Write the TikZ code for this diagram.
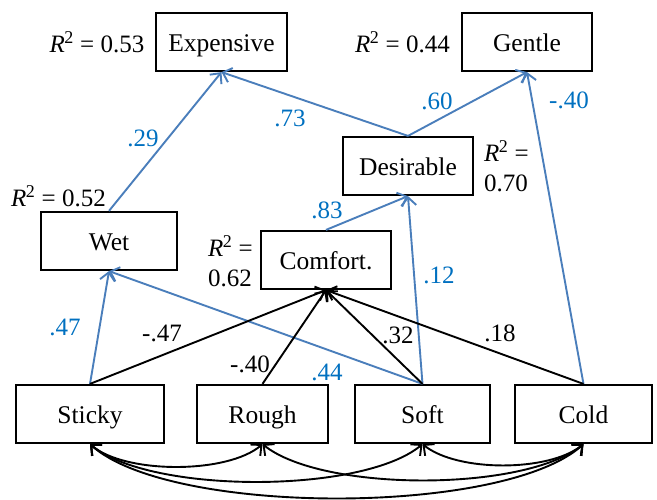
\documentclass[tikz,border=0pt]{standalone}
\usepackage{fontspec}
\setmainfont{Liberation Serif}
\usetikzlibrary{arrows.meta}
\definecolor{lineblue}{HTML}{4A7EBB}
\definecolor{textblue}{HTML}{0070C0}
\begin{document}
\begin{tikzpicture}[x=1pt,y=-1pt,
  box/.style={draw, line width=2.2pt, minimum height=58pt, inner sep=0pt, text height=19pt, text depth=1pt, font=\fontsize{25.5}{30}\selectfont},
  lab/.style={font=\fontsize{25}{30}\selectfont, inner sep=0pt},
  blab/.style={lab, text=textblue},
  bconn/.style={draw=lineblue, line width=1.9pt, arrows={-Straight Barb[length=8pt,width=15pt]}},
  kconn/.style={draw=black, line width=1.9pt, arrows={-Straight Barb[length=8pt,width=15pt]}},
  cov/.style={draw=black, line width=1.9pt, arrows={Straight Barb[length=8pt,width=15pt]-Straight Barb[length=8pt,width=15pt]}}
]
\useasboundingbox (0,0) rectangle (657,499);

% boxes
\node[box, minimum width=131pt] (expensive) at (221.5,42) {Expensive};
\node[box, minimum width=130pt] (gentle) at (527,42) {Gentle};
\node[box, minimum width=130pt] (desirable) at (408,166) {Desirable};
\node[box, minimum width=136pt] (wet) at (109,241) {Wet};
\node[box, minimum width=130pt] (comfort) at (326,260) {Comfort.};
\node[box, minimum width=148pt] (sticky) at (90,414) {Sticky};
\node[box, minimum width=131pt] (rough) at (262.5,414) {Rough};
\node[box, minimum width=135pt] (soft) at (422.5,414) {Soft};
\node[box, minimum width=137pt] (cold) at (583.5,414) {Cold};

% R^2 labels
\node[lab] (r53) at (97,42) {\textit{R}\textsuperscript{\kern-0.5pt\fontsize{18}{20}\selectfont 2} = 0.53};
\node[lab] (r44) at (402.5,42) {\textit{R}\textsuperscript{\kern-0.5pt\fontsize{18}{20}\selectfont 2} = 0.44};
\node[lab] (r52) at (58.5,196) {\textit{R}\textsuperscript{\kern-0.5pt\fontsize{18}{20}\selectfont 2} = 0.52};
\node[lab, align=left, anchor=west] (r70) at (484,166) {\textit{R}\textsuperscript{\kern-0.5pt\fontsize{18}{20}\selectfont 2} =\\0.70};
\node[lab, align=left, anchor=west] (r62) at (208,261) {\textit{R}\textsuperscript{\kern-0.5pt\fontsize{18}{20}\selectfont 2} =\\0.62};

% blue paths
\draw[bconn] (sticky.north) -- (wet.south);
\draw[bconn] (soft.north) -- (wet.south);
\draw[bconn] (soft.north) -- (desirable.south);
\draw[bconn] (comfort.north) -- (desirable.south);
\draw[bconn] (wet.north) -- (expensive.south);
\draw[bconn] (desirable.north) -- (expensive.south);
\draw[bconn] (desirable.north) -- (gentle.south);
\draw[bconn] (cold.north) -- (gentle.south);

% black paths
\draw[kconn] (sticky.north) -- (comfort.south);
\draw[kconn] (rough.north) -- (comfort.south);
\draw[kconn] (soft.north) -- (comfort.south);
\draw[kconn] (cold.north) -- (comfort.south);

% covariances
\draw[cov] (sticky.south) .. controls +(35,30) and +(-35,30) .. (rough.south);
\draw[cov] (sticky.south) .. controls +(60,50) and +(-60,50) .. (soft.south);
\draw[cov] (sticky.south) .. controls +(80,72) and +(-80,72) .. (cold.south);
\draw[cov] (rough.south) .. controls +(60,48) and +(-60,48) .. (cold.south);
\draw[cov] (soft.south) .. controls +(35,28) and +(-35,28) .. (cold.south);

% coefficient labels
\node[blab] (c29) at (143,138) {.29};
\node[blab] (c73) at (290,118) {.73};
\node[blab] (c60) at (437,101) {.60};
\node[blab] (c40b) at (569,100) {-.40};
\node[blab] (c83) at (327,210) {.83};
\node[blab] (c12) at (439,275) {.12};
\node[blab] (c47b) at (65,327) {.47};
\node[blab] (c44) at (327,372) {.44};
\node[lab] (c47k) at (162,333) {-.47};
\node[lab] (c40k) at (250,364) {-.40};
\node[lab] (c32) at (398,335) {.32};
\node[lab] (c18) at (500,333) {.18};
\end{tikzpicture}
\end{document}
